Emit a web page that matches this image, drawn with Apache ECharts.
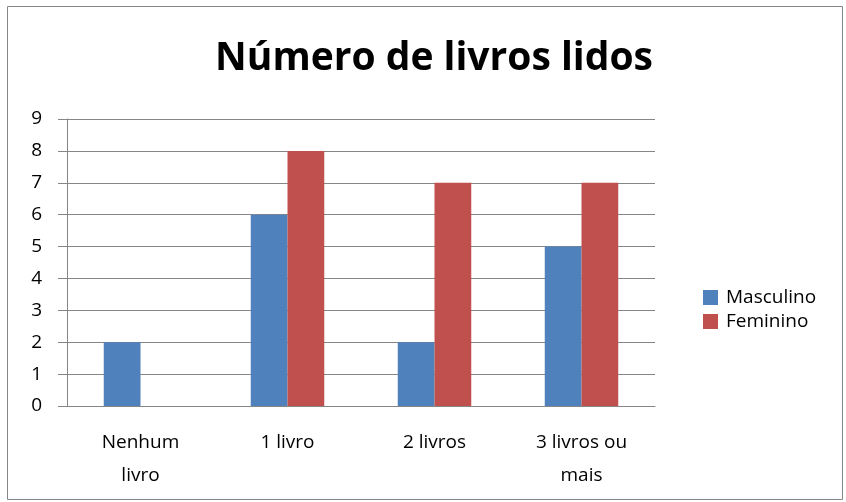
<!DOCTYPE html>
<html>
<head>
<meta charset="utf-8">
<script src="https://cdn.jsdelivr.net/npm/echarts@6/dist/echarts.min.js"></script>
<style>
  html, body { margin: 0; padding: 0; background: #fff; }
  #chart { width: 846px; height: 502px; }
</style>
</head>
<body>
<div id="chart"></div>
<script>
const categories = ['Nenhum\nlivro', '1 livro', '2 livros', '3 livros ou\nmais']
const masculino = [2, 6, 2, 5]
const feminino = [0, 8, 7, 7]
const yTicks = { min: 0, max: 9, interval: 1 }

const font = '"Open Sans", Lato, sans-serif'
const chart = echarts.init(document.getElementById('chart'))

chart.setOption({
  animation: false,
  color: ['#4f81bd', '#c0504d'],
  graphic: [{
    type: 'rect',
    shape: { x: 7.5, y: 6.5, width: 835, height: 493 },
    style: { fill: 'none', stroke: '#868686', lineWidth: 1 },
    silent: true
  }],
  title: {
    text: 'Número de livros lidos',
    left: 429,
    top: 34,
    textAlign: 'center',
    textStyle: {
      fontFamily: font,
      fontSize: 39,
      fontWeight: 'bold',
      color: '#000'
    }
  },
  legend: {
    orient: 'vertical',
    left: 698,
    top: 283,
    itemWidth: 15,
    itemHeight: 15,
    itemGap: 5,
    icon: 'rect',
    textStyle: { fontFamily: font, fontSize: 19, color: '#000', padding: [0, 0, 0, 3] }
  },
  grid: {
    left: 67,
    right: 191,
    top: 119,
    bottom: 96
  },
  xAxis: {
    type: 'category',
    data: categories,
    axisLine: { lineStyle: { color: '#868686' } },
    axisTick: { show: false },
    axisLabel: {
      fontFamily: font,
      fontSize: 19,
      color: '#000',
      margin: 20,
      lineHeight: 33
    }
  },
  yAxis: {
    type: 'value',
    min: yTicks.min,
    max: yTicks.max,
    interval: yTicks.interval,
    axisLine: { show: true, lineStyle: { color: '#868686' } },
    axisTick: { show: true, length: 9, lineStyle: { color: '#868686' } },
    axisLabel: { fontFamily: font, fontSize: 19, color: '#000', margin: 25 },
    splitLine: { lineStyle: { color: '#868686' } }
  },
  series: [
    {
      name: 'Masculino',
      type: 'bar',
      data: masculino,
      barGap: '0%',
      barCategoryGap: '50%'
    },
    {
      name: 'Feminino',
      type: 'bar',
      data: feminino,
      barGap: '0%',
      barCategoryGap: '50%'
    }
  ]
})
</script>
</body>
</html>
